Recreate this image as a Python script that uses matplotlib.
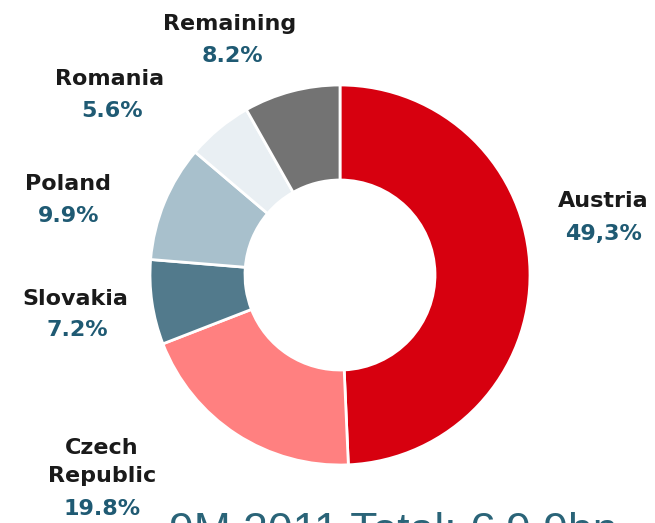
import matplotlib.pyplot as plt

countries = ['Austria', 'Czech\nRepublic', 'Slovakia', 'Poland', 'Romania', 'Remaining']
shares = [49.3, 19.8, 7.2, 9.9, 5.6, 8.2]
share_labels = ['49,3%', '19.8%', '7.2%', '9.9%', '5.6%', '8.2%']
colors = ['#D7000F', '#FF8080', '#527A8C', '#A8C0CC', '#E9EFF3', '#737373']

# label anchor points (pixel coords, y from top): name, then percent
name_pos = [(603, 201), (102, 462), (75, 299), (68, 184), (110, 79), (230, 24)]
pct_pos = [(603, 234), (102, 509), (77, 330), (69, 216), (112, 111), (232, 56)]

plt.rcParams['font.family'] = ['DejaVu Sans']

fig = plt.figure(figsize=(6.55, 5.23), dpi=100)
ax = fig.add_axes([0, 0, 1, 1])

ax.pie(shares, colors=colors, startangle=90, counterclock=False,
       center=(340, 248), radius=190, frame=True,
       wedgeprops=dict(width=95, edgecolor='white', linewidth=2))
ax.set_xlim(0, 655)
ax.set_ylim(0, 523)
ax.set_aspect('equal')
ax.axis('off')

for name, pct, (nx, ny), (px, py) in zip(countries, share_labels, name_pos, pct_pos):
    ax.text(nx, 523 - ny, name, ha='center', va='center', fontsize=16,
            fontweight='bold', color='#1A1A1A', linespacing=1.5)
    ax.text(px, 523 - py, pct, ha='center', va='center', fontsize=16,
            fontweight='bold', color='#1F5A73')

# total line, cut by the lower edge as in the original slide
ax.text(169, -21, '9M 2011 Total: € 9.9bn', ha='left', va='baseline',
        fontsize=32, color='#2A6478', family='Liberation Sans', clip_on=False)

fig.savefig('out.png', dpi=100)
